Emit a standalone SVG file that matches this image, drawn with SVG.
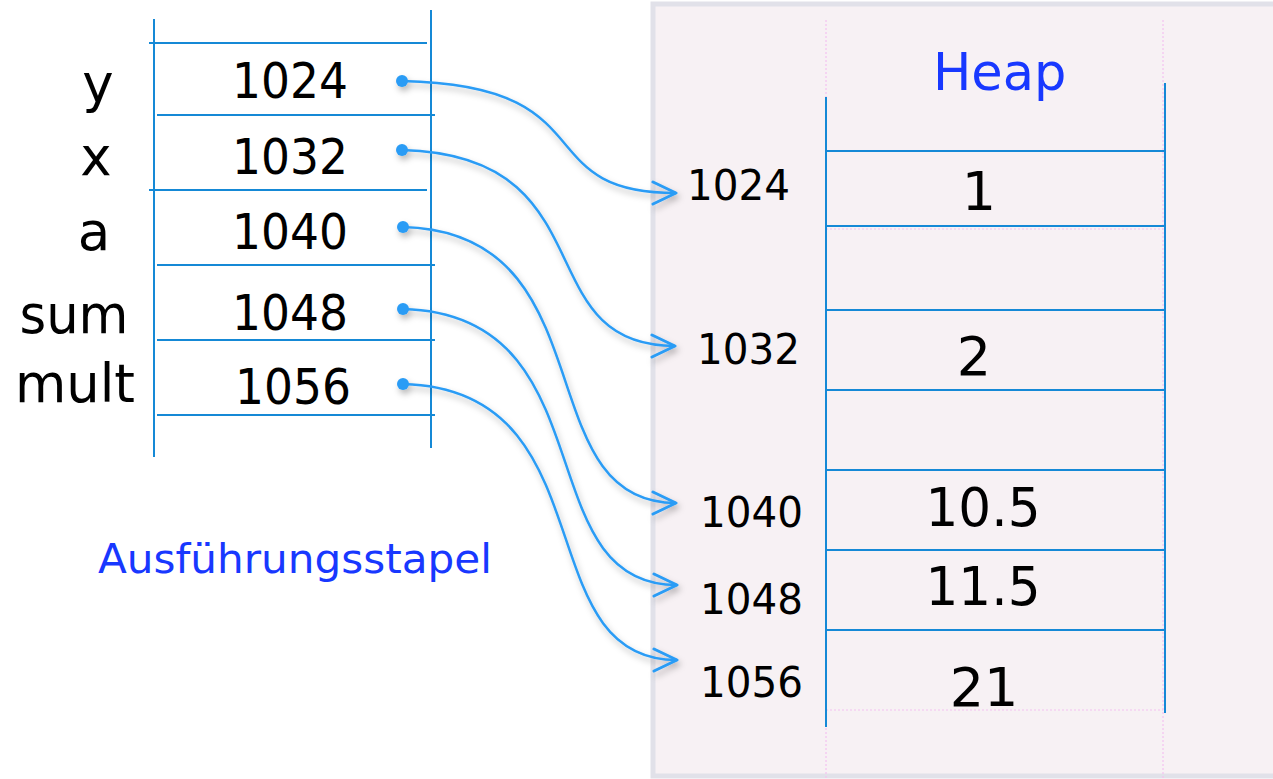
<svg xmlns="http://www.w3.org/2000/svg" width="1273" height="779" viewBox="0 0 1273 779">
  <defs>
    <filter id="soft" x="-10%" y="-10%" width="130%" height="140%">
      <feDropShadow dx="2" dy="4" stdDeviation="3" flood-color="#000" flood-opacity="0.28"/>
    </filter>
    <marker id="chev" markerWidth="32" markerHeight="32" refX="25" refY="13" orient="auto" markerUnits="userSpaceOnUse">
      <path d="M2,2 L25,13 L2,24" fill="none" stroke="#2b9cf5" stroke-width="3" stroke-linecap="round" stroke-linejoin="round"/>
    </marker>
  </defs>
  <style>
    .grid { stroke: #1589d6; stroke-width: 2; fill: none; }
    .dots { stroke: #f3c2f0; stroke-width: 1.2; stroke-dasharray: 2 2; fill: none; }
    .ptr { stroke: #2b9cf5; stroke-width: 2.5; fill: none; }
    .dot { fill: #2b9cf5; }
    .num { font-family: "DejaVu Sans", Verdana, sans-serif; fill: #000; }
    .val { font-size: 50px; }
    .addr { font-size: 43px; }
    .hv { font-size: 54px; text-anchor: middle; }
    .name { font-family: "DejaVu Sans", Verdana, sans-serif; font-size: 53px; text-anchor: middle; fill: #000; }
    .title { font-family: "DejaVu Sans", Verdana, sans-serif; fill: #1838ff; }
  </style>

  <rect width="1273" height="779" fill="#fff"/>

  <!-- heap area -->
  <g id="heap-panel">
    <rect x="653" y="4" width="640" height="772" fill="#f7f1f4" stroke="#e1e1e9" stroke-width="5"/>
    <path class="dots" d="M826,20 V779 M1163,20 V779 M826,710 H1163 M826,229 H1163"/>
  </g>

  <!-- execution stack -->
  <g id="stack">
    <path class="grid" d="M154,19 V457 M431,10 V448
      M149,43 H427 M157,115 H435 M149,190 H427 M157,265 H435 M157,340 H435 M157,415 H435"/>
    <text class="title" x="98" y="573" font-size="41" textLength="394" lengthAdjust="spacingAndGlyphs">Ausführungsstapel</text>
  </g>

  <g id="var-y">
    <text class="name" x="98" y="102">y</text>
    <text class="num val" x="232" y="98" textLength="116" lengthAdjust="spacingAndGlyphs">1024</text>
  </g>
  <g id="var-x">
    <text class="name" x="96" y="175">x</text>
    <text class="num val" x="232" y="174" textLength="116" lengthAdjust="spacingAndGlyphs">1032</text>
  </g>
  <g id="var-a">
    <text class="name" x="94" y="250">a</text>
    <text class="num val" x="232" y="249" textLength="116" lengthAdjust="spacingAndGlyphs">1040</text>
  </g>
  <g id="var-sum">
    <text class="name" x="74" y="333" textLength="109" lengthAdjust="spacingAndGlyphs">sum</text>
    <text class="num val" x="232" y="330" textLength="116" lengthAdjust="spacingAndGlyphs">1048</text>
  </g>
  <g id="var-mult">
    <text class="name" x="75" y="402" textLength="120" lengthAdjust="spacingAndGlyphs">mult</text>
    <text class="num val" x="235" y="404" textLength="116" lengthAdjust="spacingAndGlyphs">1056</text>
  </g>

  <!-- heap cells -->
  <g id="heap">
    <path class="grid" d="M826,97 V727 M1165,83 V713
      M826,151 H1165 M826,226 H1165 M826,310 H1165 M826,390 H1165 M826,470 H1165 M826,550 H1165 M826,630 H1165"/>
    <text class="title" x="933" y="90" font-size="51">Heap</text>
  </g>
  <g id="cell-1024">
    <text class="num addr" x="687" y="200" textLength="103" lengthAdjust="spacingAndGlyphs">1024</text>
    <text class="num hv" x="979" y="210">1</text>
  </g>
  <g id="cell-1032">
    <text class="num addr" x="697" y="364" textLength="103" lengthAdjust="spacingAndGlyphs">1032</text>
    <text class="num hv" x="974" y="375">2</text>
  </g>
  <g id="cell-1040">
    <text class="num addr" x="700" y="527" textLength="103" lengthAdjust="spacingAndGlyphs">1040</text>
    <text class="num hv" x="983" y="526" textLength="115" lengthAdjust="spacingAndGlyphs">10.5</text>
  </g>
  <g id="cell-1048">
    <text class="num addr" x="700" y="614" textLength="103" lengthAdjust="spacingAndGlyphs">1048</text>
    <text class="num hv" x="983" y="605" textLength="115" lengthAdjust="spacingAndGlyphs">11.5</text>
  </g>
  <g id="cell-1056">
    <text class="num addr" x="700" y="697" textLength="103" lengthAdjust="spacingAndGlyphs">1056</text>
    <text class="num hv" x="984" y="706">21</text>
  </g>

  <!-- pointers from stack slots to heap addresses -->
  <g id="connectors" filter="url(#soft)">
    <circle class="dot" cx="402" cy="81" r="6"/>
    <circle class="dot" cx="402" cy="150" r="6"/>
    <circle class="dot" cx="403" cy="227" r="6"/>
    <circle class="dot" cx="403" cy="309" r="6"/>
    <circle class="dot" cx="403" cy="384" r="6"/>
    <path class="ptr" marker-end="url(#chev)" d="M402,81 C610,85 525,193 676,193"/>
    <path class="ptr" marker-end="url(#chev)" d="M402,150 C610,155 525,346 675,346"/>
    <path class="ptr" marker-end="url(#chev)" d="M403,227 C610,232 525,503 676,503"/>
    <path class="ptr" marker-end="url(#chev)" d="M403,309 C610,314 525,585 677,585"/>
    <path class="ptr" marker-end="url(#chev)" d="M403,384 C610,389 525,660 677,660"/>
  </g>
</svg>
